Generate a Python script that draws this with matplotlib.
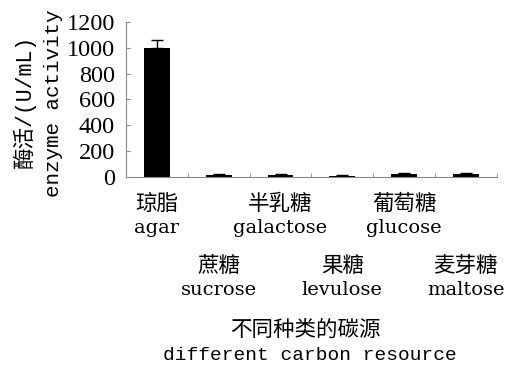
import numpy as np
import matplotlib
matplotlib.use("Agg")
import matplotlib.pyplot as plt

# enzyme activity on different carbon sources
names_cn = ["琼脂", "蔗糖", "半乳糖", "果糖", "葡萄糖", "麦芽糖"]
names_en = ["agar", "sucrose", "galactose", "levulose", "glucose", "maltose"]
activity = [1000, 15, 15, 10, 25, 25]
err = [60, 4, 4, 3, 5, 5]
yticks = [0, 200, 400, 600, 800, 1000, 1200]

cjk = ["Noto Sans CJK SC", "DejaVu Serif"]
mono = ["Liberation Mono", "Noto Sans CJK SC"]

fig = plt.figure(figsize=(5.08, 3.67), dpi=100)
ax = fig.add_axes([0.248, 0.518, 0.730, 0.422])

x = np.arange(len(activity))
ax.bar(x, activity, width=0.42, color="black")
ax.errorbar(x, activity, yerr=[np.zeros(len(err)), err], fmt="none",
            ecolor="black", elinewidth=1, capsize=4, capthick=1)

ax.set_xlim(-0.5, len(activity) - 0.5)
ax.set_ylim(0, 1200)
ax.set_yticks(yticks)
ax.set_yticklabels([str(v) for v in yticks], family="Liberation Serif", fontsize=17.5)
ax.tick_params(axis="y", direction="in", length=3, pad=8, color="#888888")

# category labels, staggered in two rows
ax.set_xticks(x)
ax.set_xticklabels([])
ax.tick_params(axis="x", length=0)
for i in x:
    row = 0 if i % 2 == 0 else 44.5
    ax.annotate(names_cn[i], (i, 0), xycoords=("data", "axes fraction"),
                xytext=(0, -19.5 - row), textcoords="offset points",
                ha="center", va="center", family=cjk, fontsize=15.5)
    ax.annotate(names_en[i], (i, 0), xycoords=("data", "axes fraction"),
                xytext=(0, -37 - row), textcoords="offset points",
                ha="center", va="center", family="DejaVu Serif", fontsize=14)
ax.set_xticks(np.arange(len(activity) + 1) - 0.5, minor=True)
ax.tick_params(axis="x", which="minor", direction="in", length=3, color="#888888")

for s in ["top", "right"]:
    ax.spines[s].set_visible(False)
for s in ["left", "bottom"]:
    ax.spines[s].set_color("#888888")

fig.text(0.049, 0.72, "酶活/(U/mL)", rotation=90, ha="center", va="center",
         family=mono, fontsize=15.5)
fig.text(0.105, 0.72, "enzyme activity", rotation=90, ha="center", va="center",
         family=mono, fontsize=15)
fig.text(0.600, 0.101, "不同种类的碳源", ha="center", va="center",
         family=cjk, fontsize=15.5)
fig.text(0.610, 0.030, "different carbon resource", ha="center", va="center",
         family=mono, fontsize=14)

fig.savefig("out.png", dpi=100)
